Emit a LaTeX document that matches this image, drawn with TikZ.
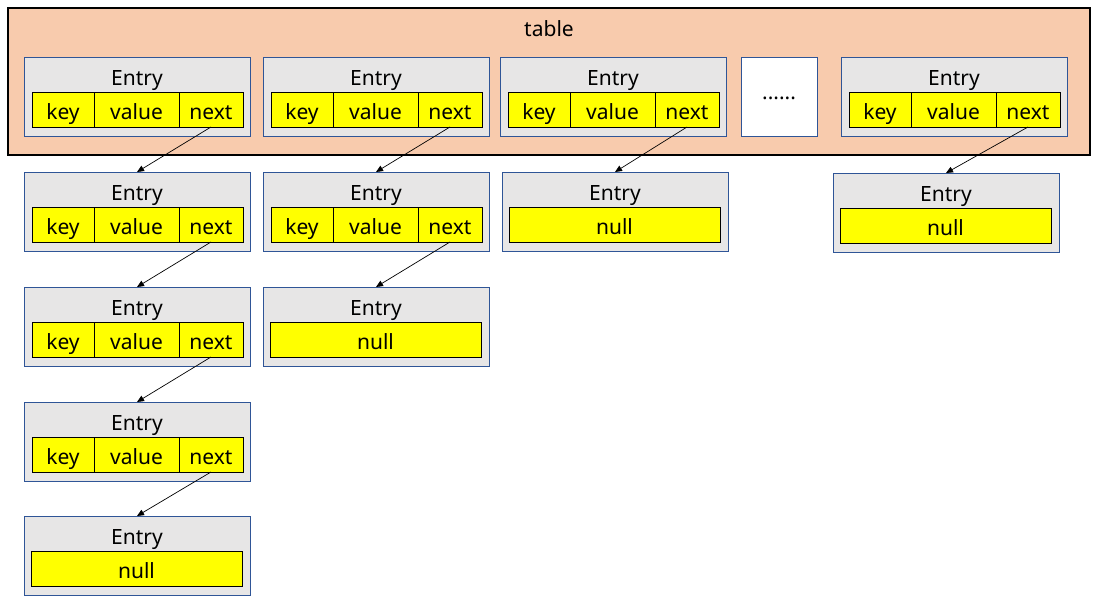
\documentclass[tikz,border=0pt]{standalone}
\usepackage{fontspec}
\setmainfont{Noto Sans}
\usetikzlibrary{positioning,arrows.meta}
\definecolor{tablebg}{HTML}{F8CBAD}
\definecolor{entrybg}{HTML}{E7E6E6}
\definecolor{edge}{HTML}{2F5597}
\definecolor{fieldbg}{HTML}{FFFF00}
\tikzset{
  tablebox/.style={draw=black, fill=tablebg, line width=1.2pt, anchor=north west, inner sep=0pt, outer sep=0pt},
  entrybox/.style={draw=edge, fill=entrybg, line width=0.9pt, minimum width=226pt, minimum height=79pt, anchor=north west, inner sep=0pt, outer sep=0pt},
  field/.style={draw=black, fill=fieldbg, line width=0.9pt, minimum height=35pt, inner sep=0pt, outer sep=0pt, text height=22pt, text depth=3pt, font=\fontsize{21}{25}\selectfont},
  lab/.style={font=\fontsize{21}{25}\selectfont, inner sep=0pt, anchor=base},
  link/.style={-{Triangle[length=7pt,width=6pt]}, line width=0.7pt},
}
% one Entry with key / value / next
\newcommand{\entrykv}[3]{%
  \node[entrybox] (#1) at (#2,#3) {};
  \node[lab] at ({#2+113},{#3+28}) {Entry};
  \node[field, minimum width=62pt, anchor=north west] (#1k) at ({#2+8},{#3+35}) {key};
  \node[field, minimum width=85pt, right=0pt of #1k] (#1v) {value};
  \node[field, minimum width=64pt, right=0pt of #1v] (#1n) {next};
}
% last Entry of a chain
\newcommand{\entrynull}[3]{%
  \node[entrybox] (#1) at (#2,#3) {};
  \node[lab] at ({#2+113},{#3+28}) {Entry};
  \node[field, minimum width=211pt, anchor=north west] (#1n) at ({#2+7},{#3+35}) {null};
}
\begin{document}
\begin{tikzpicture}[x=1pt,y=-1pt]
  \useasboundingbox (0,0) rectangle (1095,597);
  \node[tablebox, minimum width=1082pt, minimum height=147pt] (table) at (8,8) {};
  \node[lab] at (549,36) {table};

  % buckets
  \entrykv{a0}{24}{57}
  \entrykv{b0}{263}{57}
  \entrykv{c0}{500}{57}
  \node[entrybox, fill=white, minimum width=76pt] (more) at (741,57) {};
  \node[lab] at (779,99) {......};
  \entrykv{d0}{841}{57}

  % chains
  \entrykv{a1}{24}{172}
  \entrykv{a2}{24}{287}
  \entrykv{a3}{24}{402}
  \entrynull{a4}{24}{516}
  \entrykv{b1}{263}{172}
  \entrynull{b2}{263}{287}
  \entrynull{c1}{502}{172}
  \entrynull{d1}{833}{173}

  \draw[link] (a0n.south) -- (a1.north);
  \draw[link] (a1n.south) -- (a2.north);
  \draw[link] (a2n.south) -- (a3.north);
  \draw[link] (a3n.south) -- (a4.north);
  \draw[link] (b0n.south) -- (b1.north);
  \draw[link] (b1n.south) -- (b2.north);
  \draw[link] (c0n.south) -- (c1.north);
  \draw[link] (d0n.south) -- (d1.north);
\end{tikzpicture}
\end{document}
